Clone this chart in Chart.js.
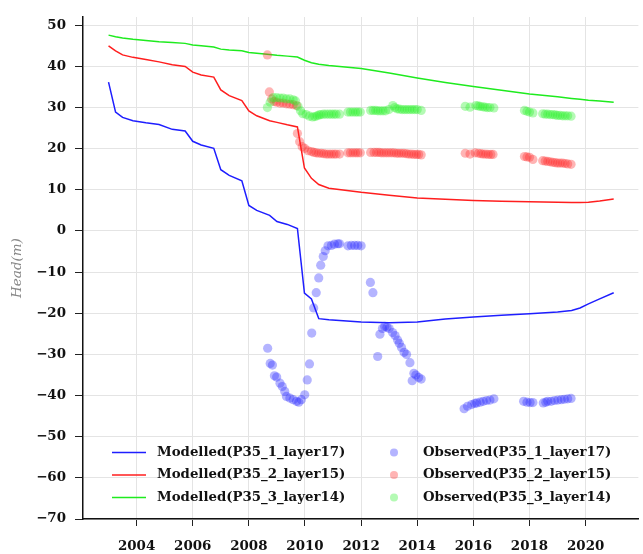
<!DOCTYPE html>
<html>
<head>
<meta charset="utf-8">
<script src="https://cdn.jsdelivr.net/npm/chart.js@4.4.1/dist/chart.umd.min.js"></script>
<style>
  html, body { margin: 0; padding: 0; background: #fff; }
  #wrap { width: 643px; height: 554px; }
</style>
</head>
<body>
<div id="wrap"><canvas id="grafico"></canvas></div>
<script>
// modelled heads, same time steps for the three layers
const modelledYears = [2003.0, 2003.25, 2003.5, 2003.87, 2004.33, 2004.8, 2005.27, 2005.73, 2006.0, 2006.3, 2006.75,
    2007.0, 2007.3, 2007.75, 2008.0, 2008.28, 2008.74, 2009.0, 2009.37, 2009.73, 2009.98, 2010.23, 2010.49, 2010.85,
    2012.0, 2013.0, 2014.0, 2015.0, 2016.0, 2017.0, 2018.0, 2019.0, 2019.5, 2019.8, 2020.1, 2020.5, 2021.0]
const modelled1 = [36.2, 28.9, 27.6, 26.8, 26.3, 25.9, 24.7, 24.3, 21.8, 20.9, 20.1,
    14.9, 13.5, 12.2, 6.2, 5.0, 3.8, 2.3, 1.6, 0.6, -15.1, -16.5, -21.3, -21.6,
    -22.1, -22.3, -22.1, -21.4, -20.9, -20.5, -20.1, -19.7, -19.3, -18.7, -17.7, -16.5, -15.0]
const modelled2 = [45.0, 43.8, 42.8, 42.2, 41.7, 41.1, 40.4, 40.0, 38.6, 37.9, 37.4,
    34.3, 32.9, 31.7, 29.2, 28.0, 26.8, 26.4, 25.8, 25.3, 15.3, 12.8, 11.3, 10.4,
    9.4, 8.7, 8.0, 7.7, 7.4, 7.25, 7.1, 7.0, 6.9, 6.9, 7.0, 7.3, 7.8]
const modelled3 = [47.6, 47.2, 46.9, 46.6, 46.3, 46.0, 45.8, 45.6, 45.2, 45.0, 44.7,
    44.2, 44.0, 43.8, 43.4, 43.2, 42.9, 42.7, 42.5, 42.3, 41.5, 40.9, 40.5, 40.2,
    39.5, 38.4, 37.2, 36.1, 35.1, 34.2, 33.3, 32.6, 32.2, 32.0, 31.8, 31.6, 31.3]

// observed heads
const observed1Years = [2008.67, 2008.76, 2008.84, 2008.91, 2008.99, 2009.11, 2009.19, 2009.28, 2009.34, 2009.46,
    2009.58, 2009.70, 2009.78, 2009.87, 2009.99, 2010.08, 2010.16, 2010.24, 2010.31, 2010.40, 2010.49, 2010.56,
    2010.65, 2010.72, 2010.82, 2010.94, 2011.05, 2011.17, 2011.23, 2011.53, 2011.65, 2011.77, 2011.88, 2012.0,
    2012.33, 2012.42, 2012.59, 2012.67, 2012.76, 2012.84, 2012.92, 2013.0, 2013.12, 2013.21, 2013.30, 2013.36,
    2013.44, 2013.53, 2013.62, 2013.74, 2013.82, 2013.88, 2013.95, 2014.05, 2014.14,
    2015.67, 2015.79, 2015.94, 2016.05, 2016.12, 2016.24, 2016.35, 2016.47, 2016.59, 2016.73,
    2017.79, 2017.91, 2018.02, 2018.12, 2018.49, 2018.58, 2018.65, 2018.77, 2018.89, 2019.01, 2019.13, 2019.24,
    2019.36, 2019.48]
const observed1 = [-28.5, -32.2, -32.6, -35.2, -35.5, -37.0, -37.8, -39.0, -40.2, -40.6,
    -41.0, -41.4, -41.6, -41.0, -39.8, -36.2, -32.3, -24.8, -18.7, -15.0, -11.4, -8.3,
    -6.2, -4.8, -3.6, -3.5, -3.2, -3.1, -3.1, -3.6, -3.5, -3.5, -3.5, -3.6,
    -12.5, -15.0, -30.5, -25.1, -23.7, -23.2, -23.4, -23.7, -24.7, -25.4, -26.5, -27.3,
    -28.3, -29.5, -30.0, -32.0, -36.4, -34.6, -35.0, -35.6, -36.0,
    -43.2, -42.6, -42.2, -41.9, -41.8, -41.6, -41.4, -41.2, -41.1, -40.8,
    -41.4, -41.6, -41.7, -41.7, -41.8, -41.6, -41.4, -41.4, -41.2, -41.1, -41.0, -40.9,
    -40.8, -40.7]

const observed2Years = [2008.66, 2008.73, 2008.81, 2008.90, 2008.99, 2009.11, 2009.22, 2009.34, 2009.46, 2009.58,
    2009.70, 2009.73, 2009.81, 2009.90, 2009.99, 2010.11, 2010.23, 2010.32, 2010.40, 2010.49, 2010.58, 2010.67,
    2010.76, 2010.85, 2010.94, 2011.03, 2011.11, 2011.23, 2011.53, 2011.62, 2011.71, 2011.80, 2011.88, 2011.97,
    2012.34, 2012.46, 2012.55, 2012.64, 2012.72, 2012.81, 2012.90, 2012.99, 2013.08, 2013.17, 2013.26, 2013.34,
    2013.43, 2013.52, 2013.61, 2013.70, 2013.79, 2013.88, 2013.97, 2014.05, 2014.14,
    2015.71, 2015.88, 2016.06, 2016.18, 2016.27, 2016.35, 2016.44, 2016.53, 2016.62, 2016.70,
    2017.82, 2017.91, 2018.0, 2018.12, 2018.47, 2018.56, 2018.65, 2018.74, 2018.83, 2018.92, 2019.0, 2019.09,
    2019.18, 2019.27, 2019.36, 2019.48]
const observed2 = [42.8, 33.8, 32.1, 31.5, 31.3, 31.1, 31.1, 30.9, 30.8, 30.7,
    30.5, 23.7, 21.7, 20.5, 20.1, 19.5, 19.3, 19.1, 19.0, 18.9, 18.9, 18.8,
    18.7, 18.7, 18.7, 18.7, 18.7, 18.7, 19.0, 19.0, 19.0, 19.0, 19.0, 19.0,
    19.1, 19.1, 19.1, 19.1, 19.0, 19.0, 19.0, 19.0, 19.0, 19.0, 18.9, 18.9,
    18.9, 18.9, 18.8, 18.7, 18.7, 18.6, 18.6, 18.6, 18.5,
    18.9, 18.7, 19.0, 18.9, 18.8, 18.7, 18.7, 18.6, 18.6, 18.6,
    18.1, 18.0, 17.9, 17.4, 17.1, 17.0, 16.9, 16.8, 16.7, 16.6, 16.5, 16.5,
    16.5, 16.4, 16.3, 16.2]

const observed3Years = [2008.66, 2008.76, 2008.87, 2008.99, 2009.11, 2009.22, 2009.34, 2009.46, 2009.58, 2009.66,
    2009.75, 2009.84, 2009.92, 2010.04, 2010.16, 2010.27, 2010.35, 2010.43, 2010.50, 2010.57, 2010.66, 2010.75,
    2010.85, 2010.94, 2011.03, 2011.11, 2011.23, 2011.53, 2011.62, 2011.71, 2011.80, 2011.88, 2011.97,
    2012.34, 2012.43, 2012.52, 2012.60, 2012.69, 2012.78, 2012.87, 2012.99, 2013.13, 2013.20, 2013.28, 2013.37,
    2013.46, 2013.55, 2013.64, 2013.73, 2013.82, 2013.91, 2014.0, 2014.14,
    2015.71, 2015.88, 2016.09, 2016.17, 2016.24, 2016.33, 2016.41, 2016.50, 2016.59, 2016.73,
    2017.82, 2017.91, 2018.0, 2018.12, 2018.47, 2018.56, 2018.65, 2018.74, 2018.83, 2018.92, 2019.0, 2019.09,
    2019.18, 2019.27, 2019.36, 2019.48]
const observed3 = [30.0, 31.3, 32.4, 32.4, 32.3, 32.3, 32.1, 32.1, 31.9, 31.6,
    30.3, 29.2, 28.5, 28.3, 27.9, 27.7, 27.8, 28.0, 28.2, 28.3, 28.4, 28.4,
    28.4, 28.4, 28.4, 28.4, 28.4, 28.9, 28.9, 28.9, 28.9, 28.9, 28.9,
    29.3, 29.3, 29.3, 29.2, 29.2, 29.2, 29.2, 29.5, 30.5, 30.0, 29.7, 29.6,
    29.5, 29.5, 29.5, 29.5, 29.5, 29.5, 29.5, 29.3,
    30.3, 30.1, 30.5, 30.4, 30.3, 30.2, 30.1, 30.0, 30.0, 29.9,
    29.3, 29.1, 28.9, 28.7, 28.5, 28.4, 28.4, 28.3, 28.3, 28.2, 28.1, 28.1,
    28.0, 28.0, 28.0, 27.9]

const xTicks = [2004, 2006, 2008, 2010, 2012, 2014, 2016, 2018, 2020]
const yTicks = [-70, -60, -50, -40, -30, -20, -10, 0, 10, 20, 30, 40, 50]

const pares = (xs, ys) => xs.map((x, i) => ({x: x, y: ys[i]}))

const fonte = {family: '"DejaVu Serif", serif', size: 13.4, weight: 'bold'}

function linha(label, ys, cor) {
    return {
        label: label,
        data: pares(modelledYears, ys),
        showLine: true,
        borderColor: cor,
        backgroundColor: cor,
        borderWidth: 1.5,
        pointRadius: 0,
        order: 5
    }
}

function pontos(label, xs, ys, cor, ordem) {
    return {
        label: label,
        data: pares(xs, ys),
        showLine: false,
        backgroundColor: cor,
        borderWidth: 0,
        pointRadius: 4.6,
        order: ordem
    }
}

// legend drawn inside the plot, two columns
const legendaInterna = {
    id: 'legendaInterna',
    afterDraw(chart) {
        const ctx = chart.ctx
        const area = chart.chartArea
        const ds = chart.data.datasets
        const linhas = [area.bottom - 66.5, area.bottom - 44, area.bottom - 21.5]
        ctx.save()
        ctx.font = 'bold 13.3px "DejaVu Serif", serif'
        ctx.textBaseline = 'middle'
        ctx.textAlign = 'left'
        for (let i = 0; i < 3; i++) {
            const y = linhas[i]
            const m = ds[i]
            ctx.strokeStyle = m.borderColor
            ctx.lineWidth = 1.5
            ctx.beginPath()
            ctx.moveTo(area.left + 29, y)
            ctx.lineTo(area.left + 63, y)
            ctx.stroke()
            ctx.fillStyle = '#111'
            ctx.fillText(m.label, area.left + 74, y)

            const o = ds[i + 3]
            ctx.fillStyle = o.backgroundColor
            ctx.beginPath()
            ctx.arc(area.left + 311, y, 4, 0, Math.PI * 2)
            ctx.fill()
            ctx.fillStyle = '#111'
            ctx.fillText(o.label, area.left + 340, y)
        }
        ctx.restore()
    }
}

new Chart(document.getElementById('grafico'), {
    type: 'scatter',
    data: {
        datasets: [
            linha('Modelled(P35_1_layer17)', modelled1, 'rgb(30,30,255)'),
            linha('Modelled(P35_2_layer15)', modelled2, 'rgb(255,30,30)'),
            linha('Modelled(P35_3_layer14)', modelled3, 'rgb(30,235,30)'),
            pontos('Observed(P35_1_layer17)', observed1Years, observed1, 'rgba(40,40,255,0.35)', 3),
            pontos('Observed(P35_2_layer15)', observed2Years, observed2, 'rgba(255,40,40,0.35)', 2),
            pontos('Observed(P35_3_layer14)', observed3Years, observed3, 'rgba(40,240,40,0.35)', 1)
        ]
    },
    options: {
        responsive: true,
        maintainAspectRatio: false,
        animation: false,
        layout: {padding: {top: 12, right: 0, left: 0, bottom: 0}},
        plugins: {
            legend: {display: false},
            tooltip: {enabled: false}
        },
        scales: {
            x: {
                type: 'linear',
                min: 2002.09,
                max: 2021.88,
                afterBuildTicks: scale => { scale.ticks = xTicks.map(v => ({value: v})) },
                afterFit: scale => { scale.height = 35 },
                grid: {color: '#e4e4e4', tickColor: '#222', tickLength: 7},
                border: {color: '#111', width: 1.5},
                ticks: {
                    font: fonte,
                    color: '#111',
                    padding: 12,
                    maxRotation: 0,
                    callback: v => String(v)
                }
            },
            y: {
                min: -70,
                max: 52,
                afterBuildTicks: scale => { scale.ticks = yTicks.map(v => ({value: v})) },
                afterFit: scale => { scale.width = 83 },
                grid: {color: '#e4e4e4', tickColor: '#222', tickLength: 8},
                border: {color: '#111', width: 1.5},
                title: {
                    display: true,
                    text: 'Head(m)',
                    color: '#888',
                    font: {family: '"DejaVu Serif", serif', size: 13.5, style: 'italic'},
                    padding: {top: 9, bottom: 0}
                },
                ticks: {
                    font: fonte,
                    color: '#111',
                    padding: 9,
                    callback: v => v < 0 ? '\u2212' + Math.abs(v) : String(v)
                }
            }
        }
    },
    plugins: [legendaInterna]
})
</script>
</body>
</html>
